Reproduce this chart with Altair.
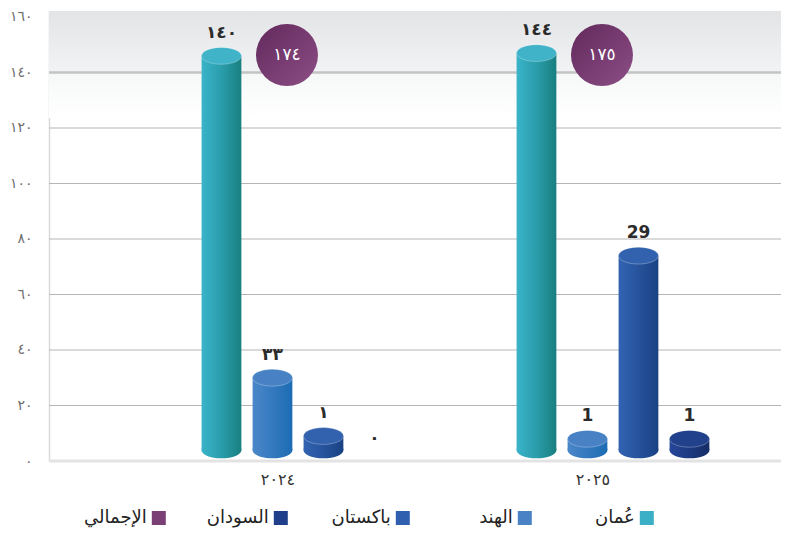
import altair as alt
import pandas as pd

# ---------------- data ----------------
years = ["٢٠٢٤", "٢٠٢٥"]
series = ["oman", "india", "pakistan", "sudan"]
series_names = ["عُمان", "الهند", "باكستان", "السودان"]

# bar heights as drawn in the picture
oman_h = [146, 147]
india_h = [30, 8]
pakistan_h = [9, 74]
sudan_h = [0, 8]

# value labels as printed
oman_lbl = ["١٤٠", "١٤٤"]
india_lbl = ["٣٣", "1"]
pakistan_lbl = ["١", "29"]
sudan_lbl = ["٠", "1"]

totals = ["١٧٤", "١٧٥"]

y_ticks = [0, 20, 40, 60, 80, 100, 120, 140, 160]
y_tick_labels = ["٠", "٢٠", "٤٠", "٦٠", "٨٠", "١٠٠", "١٢٠", "١٤٠", "١٦٠"]
grid_values = [20, 40, 60, 80, 100, 120]
top_line = [140]
base_line = [0]

legend_keys = ["total", "sudan", "pakistan", "india", "oman"]
legend_labels = ["الإجمالي", "السودان", "باكستان", "الهند", "عُمان"]

# ---------------- styling ----------------
FONT = "DejaVu Sans"
W, H = 732, 450
BASE = 4  # cylinder bottom centre

body_grad = {
    "oman": ["#3ab4ca", "#2a9dab", "#197f80"],
    "india": ["#4b87c9", "#3479be", "#1c6cb4"],
    "pakistan": ["#3263b2", "#27539c", "#194283"],
    "sudan": ["#26479a", "#1d3a80", "#142d66"],
}
top_col = {"oman": "#40b3c9", "india": "#4882c5", "pakistan": "#3262ae", "sudan": "#22418c"}
legend_col = ["#7a3f74", "#1f3f8a", "#2f5fae", "#4a83c5", "#3bafc6"]

heights = {"oman": oman_h, "india": india_h, "pakistan": pakistan_h, "sudan": sudan_h}
labels = {"oman": oman_lbl, "india": india_lbl, "pakistan": pakistan_lbl, "sudan": sudan_lbl}

rows = []
for s in series:
    for i, yr in enumerate(years):
        rows.append({"year": yr, "series": s, "h": heights[s][i], "label": labels[s][i]})
df = pd.DataFrame(rows)

tot_df = pd.DataFrame({"year": years, "total": totals})
grid_df = pd.DataFrame({"v": grid_values})
top_df = pd.DataFrame({"v": top_line})
base_df = pd.DataFrame({"v": base_line})
leg_df = pd.DataFrame({"key": legend_keys, "name": legend_labels})

label_expr = "[" + ",".join("'" + t + "'" for t in y_tick_labels) + "][round(datum.value/20)]"

y_scale = alt.Scale(domain=[0, 162.16], nice=False, zero=True)
y_axis = alt.Axis(values=y_ticks, labelExpr=label_expr, grid=False, ticks=False,
                  domainColor="#d9d9d9", domainWidth=1.5, labelColor="#6e6e6e",
                  labelFontSize=14, labelPadding=17, labelFont=FONT, title=None)

x_scale = alt.Scale(domain=years, paddingInner=0.3524, paddingOuter=0.3381, align=0.69)
x_axis = alt.Axis(title=None, ticks=False, domain=False, labelAngle=0, labelFontSize=16,
                  labelColor="#333333", labelFont=FONT, labelPadding=10, labelOffset=-20)
xo_scale = alt.Scale(domain=series, paddingInner=0.22, paddingOuter=0.11)


def Y(field):
    return alt.Y(field, scale=y_scale, axis=y_axis)


X = alt.X("year:N", scale=x_scale, axis=x_axis)
XO = alt.XOffset("series:N", scale=xo_scale)

ellipse = "M-1,0A1,0.42,0,1,0,1,0A1,0.42,0,1,0,-1,0Z"

# background band at the top
bg = alt.Chart(top_df).mark_rect(
    fill=alt.LinearGradient(gradient="linear", x1=0, x2=0, y1=0, y2=1,
                            stops=[alt.GradientStop(color="#e3e4e6", offset=0),
                                   alt.GradientStop(color="#f1f3f5", offset=1)])
).encode(y=Y("v:Q"), y2=alt.value(0), x=alt.value(0), x2=alt.value(W))

fade = alt.Chart(top_df).mark_rect(
    fill=alt.LinearGradient(gradient="linear", x1=0, x2=0, y1=0, y2=1,
                            stops=[alt.GradientStop(color="#f6f8f8", offset=0),
                                   alt.GradientStop(color="#ffffff", offset=1)])
).encode(y=Y("v:Q"), y2=alt.value(107), x=alt.value(0), x2=alt.value(W))

grid = alt.Chart(grid_df).mark_rule(color="#b5b5b5", strokeWidth=1.2).encode(
    y=Y("v:Q"), x=alt.value(0), x2=alt.value(W))
topline = alt.Chart(top_df).mark_rule(color="#c3c3c3", strokeWidth=2.5).encode(
    y=Y("v:Q"), x=alt.value(0), x2=alt.value(W))
baseline = alt.Chart(base_df).mark_rule(color="#e3e3e3", strokeWidth=3).encode(
    y=Y("v:Q"), x=alt.value(0), x2=alt.value(W))

layers = [bg, fade, grid, topline, baseline]

for s in series:
    c = body_grad[s]
    grad = alt.LinearGradient(gradient="linear", x1=0, x2=1, y1=0, y2=0,
                              stops=[alt.GradientStop(color=c[0], offset=0),
                                     alt.GradientStop(color=c[1], offset=0.5),
                                     alt.GradientStop(color=c[2], offset=1)])
    base = alt.Chart(df).transform_filter(
        (alt.datum.series == s) & (alt.datum.h > 0))
    body = base.mark_bar(fill=grad, strokeWidth=0).encode(
        x=X, xOffset=XO, y=Y("h:Q"), y2=alt.datum(BASE))
    bottom = base.mark_point(shape=ellipse, filled=True, fill=grad, size=1600,
                             opacity=1, strokeWidth=0).encode(
        x=X, xOffset=XO, y=alt.Y(datum=BASE, scale=y_scale, axis=y_axis))
    top = base.mark_point(shape=ellipse, filled=True, fill=top_col[s], size=1600,
                          opacity=1, stroke="#ffffff", strokeOpacity=0.35,
                          strokeWidth=0.8).encode(
        x=X, xOffset=XO, y=Y("h:Q"))
    layers += [body, bottom, top]

vlabels = alt.Chart(df).mark_text(baseline="bottom", dy=-14, fontSize=17, fontWeight="bold",
                                  color="#2b2b2b", font=FONT).encode(
    x=X, xOffset=XO, y=Y("h:Q"), text="label:N")
layers.append(vlabels)

circ = alt.Chart(tot_df).mark_point(
    shape="circle", size=3844, filled=True, opacity=1, strokeWidth=0, xOffset=-11,
    fill=alt.LinearGradient(gradient="linear", x1=0, x2=1, y1=0, y2=1,
                            stops=[alt.GradientStop(color="#62295b", offset=0),
                                   alt.GradientStop(color="#8c4e86", offset=1)])
).encode(x=X, y=alt.value(44))
circ_txt = alt.Chart(tot_df).mark_text(color="white", fontSize=17, font=FONT, dx=-11,
                                       baseline="middle").encode(
    x=X, y=alt.value(44), text="total:N")
layers += [circ, circ_txt]

main = alt.layer(*layers)

# legend (right-to-left items, label left of swatch)
leg_x = alt.X("key:N", sort=legend_keys, axis=None,
              scale=alt.Scale(type="point", padding=1.48, align=0.45))
leg_sq = alt.Chart(leg_df).mark_point(shape="square", size=196, filled=True, opacity=1,
                                      strokeWidth=0).encode(
    x=leg_x, y=alt.value(507),
    color=alt.Color("key:N", scale=alt.Scale(domain=legend_keys, range=legend_col), legend=None))
leg_tx = alt.Chart(leg_df).mark_text(align="right", dx=-12, baseline="middle", fontSize=18,
                                     color="#222222", font=FONT).encode(
    x=leg_x, y=alt.value(507), text="name:N")

chart = alt.layer(main, leg_sq, leg_tx).resolve_scale(x="independent", color="independent").properties(
    width=W, height=H,
    autosize=alt.AutoSizeParams(type="none"),
    padding={"left": 41, "top": 3, "right": 0, "bottom": 67},
).configure_view(stroke=None).configure(background="white")

chart.save("out.html", embed_options={"renderer": "svg", "actions": False})
